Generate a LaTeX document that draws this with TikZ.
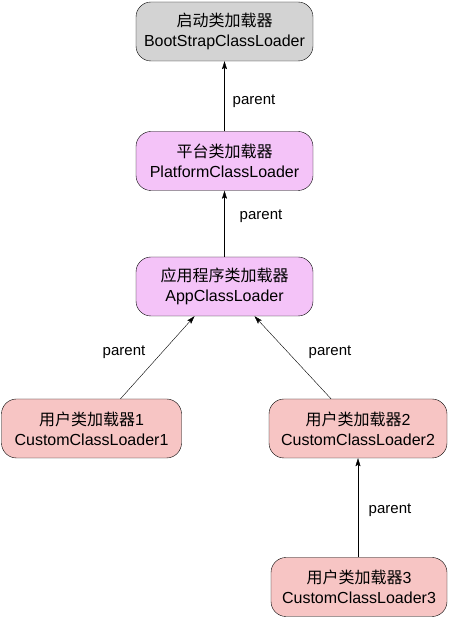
\documentclass[tikz,border=0pt]{standalone}
\usepackage{fontspec}
\setmainfont{Liberation Sans}
\newfontfamily\cjk{Noto Sans CJK SC}
\usetikzlibrary{arrows.meta}

\definecolor{bootgray}{HTML}{D3D3D3}
\definecolor{sysviolet}{HTML}{F4C3F8}
\definecolor{userpink}{HTML}{F7C5C4}

\tikzset{
  loader/.style={draw=black, rounded corners=15pt, align=center,
                 minimum width=177pt, minimum height=59pt, inner sep=0pt,
                 font=\fontsize{16}{20}\selectfont},
  parentarrow/.style={-{Stealth[length=8pt,width=5pt,inset=1.5pt]}, black},
  parentlabel/.style={font=\fontsize{15}{18}\selectfont}
}

\begin{document}
\begin{tikzpicture}[x=1pt, y=1pt]
    \useasboundingbox (0,0) rectangle (448,618);
    \node[loader, fill=bootgray] (boot) at (224.5,586.5) {{\cjk 启动类加载器}\\BootStrapClassLoader};
    \node[loader, fill=sysviolet] (platform) at (224.5,457) {{\cjk 平台类加载器}\\PlatformClassLoader};
    \node[loader, fill=sysviolet] (app) at (224.5,331.5) {{\cjk 应用程序类加载器}\\AppClassLoader};
    \node[loader, fill=userpink, minimum width=180pt] (custom1) at (91.5,189.5) {{\cjk 用户类加载器}1\\CustomClassLoader1};
    \node[loader, fill=userpink, minimum width=178pt] (custom2) at (358,189.5) {{\cjk 用户类加载器}2\\CustomClassLoader2};
    \node[loader, fill=userpink, minimum width=176pt] (custom3) at (359,31) {{\cjk 用户类加载器}3\\CustomClassLoader3};

    \draw[parentarrow] (platform.north) -- (boot.south);
    \draw[parentarrow] (app.north) -- (platform.south);
    \draw[parentarrow] ([xshift=29pt]custom1.north) -- ([xshift=-30pt]app.south);
    \draw[parentarrow] ([xshift=-27pt]custom2.north) -- ([xshift=30pt]app.south);
    \draw[parentarrow] (custom3.north -| custom2.south) -- (custom2.south);

    \node[parentlabel] (lboot) at (254,517) {parent};
    \node[parentlabel] (lplatform) at (261,402) {parent};
    \node[parentlabel] (lcustom1) at (124,266) {parent};
    \node[parentlabel] (lcustom2) at (330,266) {parent};
    \node[parentlabel] (lcustom3) at (390,108) {parent};
\end{tikzpicture}
\end{document}
